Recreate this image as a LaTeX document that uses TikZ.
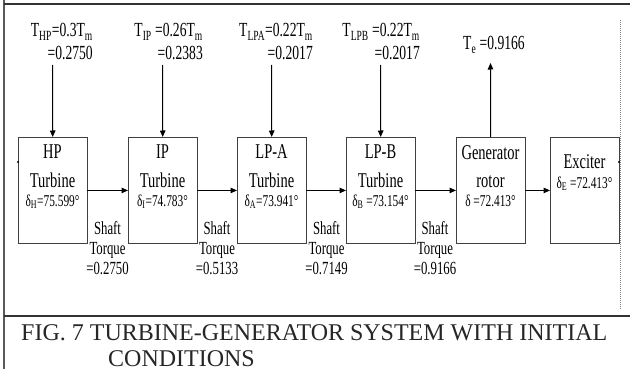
\documentclass[tikz,border=0pt]{standalone}
\usepackage{fontspec}
\setmainfont{Liberation Serif}
\newfontfamily\cf[FakeStretch=0.69]{Liberation Serif}
\newfontfamily\cg[FakeStretch=0.68]{Liberation Serif}
\usetikzlibrary{arrows.meta}
\begin{document}
\begin{tikzpicture}[x=1pt,y=-1pt,
  blk/.style={draw=black!75, line width=0.9pt, minimum width=68.5pt, minimum height=106pt, inner sep=0pt, anchor=north west},
  bigt/.style={font=\cf\fontsize{21}{21}\selectfont, inner sep=0pt, anchor=base},
  smallt/.style={font=\cf\fontsize{16.5}{16.5}\selectfont, inner sep=0pt, anchor=base},
  shaftt/.style={font=\cf\fontsize{18.5}{18.5}\selectfont, inner sep=0pt, anchor=base},
  lab/.style={font=\cg\fontsize{20}{20}\selectfont, inner sep=0pt, anchor=base east},
  arr/.style={-{Triangle[length=6.5pt,width=5.5pt]}, line width=1pt},
  capt/.style={font=\fontsize{24}{24}\selectfont, inner sep=0pt, anchor=base west, text=black!85}
]
\useasboundingbox (0,0) rectangle (630,369);
% frame
\draw[line width=2pt, black!65] (4,0) -- (4,369);
\draw[line width=1.3pt, black!80] (4,4) -- (630,4);
\draw[line width=1.3pt, black!80] (4,316) -- (630,316);
\draw[line width=0.6pt, black!50, dash pattern=on 1pt off 1pt] (620,20) -- (620,310);

% boxes
\node[blk] (hp)  at (18,137) {};
\node[blk] (ip)  at (128,137) {};
\node[blk] (lpa) at (237,137) {};
\node[blk] (lpb) at (346,137) {};
\node[blk] (gen) at (456,137) {};
\node[blk] (exc) at (550,137) {};
\fill (18,162) circle (1.1pt);
\fill (619,162) circle (1.1pt);

% box texts
\node[bigt] (hp1) at (52.5,158) {HP};
\node[bigt] (hp2) at (52.5,187) {Turbine};
\node[smallt] (hp3) at (52.5,206) {δ\textsubscript{H}=75.599°};
\node[bigt] (ip1) at (162.5,158) {IP};
\node[bigt] (ip2) at (162.5,187) {Turbine};
\node[smallt] (ip3) at (162.5,206) {δ\textsubscript{I}=74.783°};
\node[bigt] (lpa1) at (271.5,158) {LP-A};
\node[bigt] (lpa2) at (271.5,187) {Turbine};
\node[smallt] (lpa3) at (271.5,206) {δ\textsubscript{A}=73.941°};
\node[bigt] (lpb1) at (380.5,158) {LP-B};
\node[bigt] (lpb2) at (380.5,187) {Turbine};
\node[smallt] (lpb3) at (380.5,206) {δ\textsubscript{B} =73.154°};
\node[bigt] (gen1) at (490.5,159) {Generator};
\node[bigt] (gen2) at (490.5,187) {rotor};
\node[smallt] (gen3) at (490.5,206) {δ =72.413°};
\node[bigt] (exc1) at (584.5,168) {Exciter};
\node[smallt] (exc2) at (584.5,188) {δ\textsubscript{E} =72.413°};

% shaft arrows
\draw[arr] (hp.east) -- (ip.west);
\draw[arr] (ip.east) -- (lpa.west);
\draw[arr] (lpa.east) -- (lpb.west);
\draw[arr] (lpb.east) -- (gen.west);
\draw[arr] (gen.east) -- (exc.west);

% shaft labels
\foreach \n/\x/\v in {s1/107.5/0.2750, s2/217/0.5133, s3/326.5/0.7149, s4/435/0.9166}{
  \node[shaftt] (\n a) at (\x,234) {Shaft};
  \node[shaftt] (\n b) at (\x,254) {Torque};
  \node[shaftt] (\n c) at (\x,274) {=\v};
}

% torque inputs
\coordinate (thp) at (52.5,65);
\coordinate (tip) at (162.5,65);
\coordinate (tlpa) at (271.5,65);
\coordinate (tlpb) at (380.5,65);
\coordinate (te) at (490.5,63);
\draw[arr] (thp) -- (hp.north);
\draw[arr] (tip) -- (ip.north);
\draw[arr] (tlpa) -- (lpa.north);
\draw[arr] (tlpb) -- (lpb.north);
\draw[arr] (gen.north) -- (te);

\node[lab] (lhp1) at (93,37) {T\textsubscript{HP}=0.3T\textsubscript{m}};
\node[lab] (lhp2) at (93,60) {=0.2750};
\node[lab] (lip1) at (203,37) {T\textsubscript{IP} =0.26T\textsubscript{m}};
\node[lab] (lip2) at (203,60) {=0.2383};
\node[lab] (llpa1) at (313,37) {T\textsubscript{LPA}=0.22T\textsubscript{m}};
\node[lab] (llpa2) at (313,60) {=0.2017};
\node[lab] (llpb1) at (420,37) {T\textsubscript{LPB} =0.22T\textsubscript{m}};
\node[lab] (llpb2) at (420,60) {=0.2017};
\node[lab, anchor=base west] (lte) at (463,50) {T\textsubscript{e} =0.9166};

% caption
\node[capt] (cap1) at (21,340) {FIG. 7 TURBINE-GENERATOR SYSTEM WITH INITIAL};
\node[capt] (cap2) at (108,366.5) {CONDITIONS};
\end{tikzpicture}
\end{document}
